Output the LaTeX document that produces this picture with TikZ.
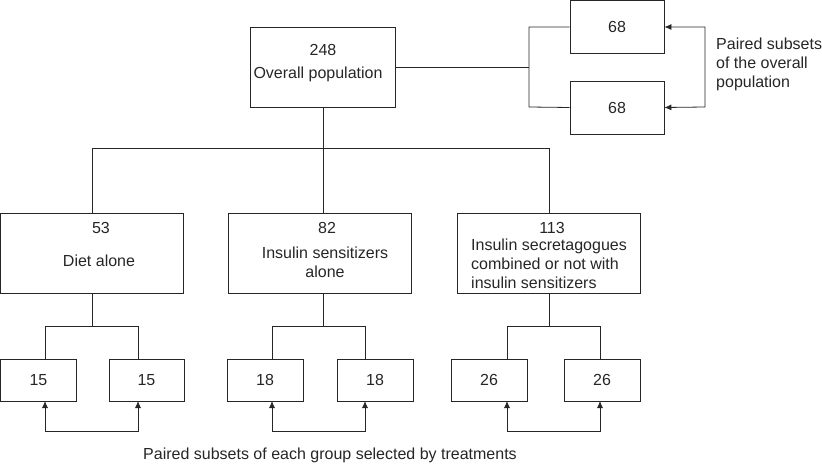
\documentclass[tikz,border=0pt]{standalone}
\usepackage{fontspec}
\setmainfont{Liberation Sans}
\usetikzlibrary{arrows.meta}
\tikzset{
  >={Latex[length=7bp,width=6bp]},
  box/.style={draw, line width=0.8bp, inner sep=0pt},
  bigbox/.style={box, minimum width=183bp, minimum height=80bp},
  pairbox/.style={box, minimum width=76bp, minimum height=42bp},
  link/.style={draw, line width=0.8bp},
  txt/.style={inner sep=0pt, align=center}
}
\begin{document}
\begin{tikzpicture}[x=1bp, y=-1bp, font=\fontsize{16bp}{19bp}\selectfont, color=black!85]
        \useasboundingbox (0,0) rectangle (822,467);
        % Overall population and its paired subsets
        \node[box, minimum width=145bp, minimum height=80bp] (pop) at (323,67) {};
        \node[txt] (popnum) at (323,50) {248};
        \node[txt] (poptxt) at (318,74) {Overall population};
        \node[box, minimum width=94bp, minimum height=52.5bp] (subA) at (617,27) {68};
        \node[box, minimum width=94bp, minimum height=53bp] (subB) at (617,107.5) {68};
        \draw[link] (pop.east) -- (529,67);
        \draw[link] (subA.west) -| (529,107) -- (subB.west);
        \draw[link, <->] (subA.east) -- (705,27) -- (705,107) -- (subB.east);
        \node[txt, align=left, anchor=west] (poplabel) at (716,64) {Paired subsets\\of the overall\\population};
        % Treatment groups
        \node[bigbox] (diet) at (92,253) {};
        \node[bigbox] (sens) at (320,253) {};
        \node[bigbox] (secr) at (549,253) {};
        \node[txt] (dietnum) at (101,228) {53};
        \node[txt] (senssnum) at (327,228) {82};
        \node[txt] (secrnum) at (552,228) {113};
        \node[txt] (diettxt) at (99,261) {Diet alone};
        \node[txt] (senstxt) at (325,262.5) {Insulin sensitizers\\alone};
        \node[txt, align=left, anchor=west] (secrtxt) at (471,264) {Insulin secretagogues\\combined or not with\\insulin sensitizers};
        \draw[link] (pop.south) -- (pop.south |- sens.north);
        \draw[link] (diet.north) |- (secr.north |- 0,148) -- (secr.north);
        % Paired subsets of each group
        \node[pairbox, minimum width=75.5bp] (dietA) at (38.5,380) {15};
        \node[pairbox, minimum width=75bp] (dietB) at (146.5,380) {15};
        \node[pairbox] (sensA) at (265,380) {18};
        \node[pairbox] (sensB) at (375,380) {18};
        \node[pairbox] (secrA) at (489,380) {26};
        \node[pairbox] (secrB) at (602,380) {26};
        \draw[link] (diet.south) -- (diet.south |- 0,326);
        \draw[link] (45,359) |- (138,326) -- (138,359);
        \draw[link] (pop.south |- sens.south) -- (pop.south |- 0,326);
        \draw[link] (272,359) |- (365,326) -- (365,359);
        \draw[link] (secr.south) -- (secr.south |- 0,326);
        \draw[link] (507,359) |- (600,326) -- (600,359);
        \draw[link, <->] (45,401) -- (45,431) -- (138,431) -- (138,401);
        \draw[link, <->] (272,401) -- (272,431) -- (365,431) -- (365,401);
        \draw[link, <->] (507,401) -- (507,431) -- (600,431) -- (600,401);
        \node[txt] (grouplabel) at (330,455) {Paired subsets of each group selected by treatments};
    \end{tikzpicture}
\end{document}
